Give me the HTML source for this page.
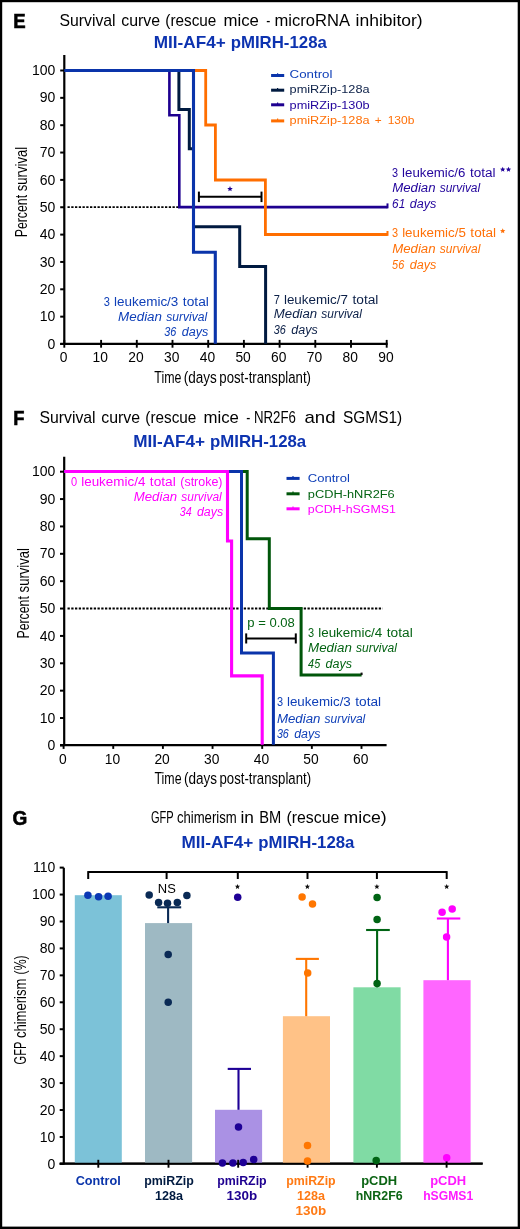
<!DOCTYPE html>
<html><head><meta charset="utf-8"><style>
html,body{margin:0;padding:0;background:#fff;}
svg{display:block;font-family:"Liberation Sans", sans-serif;will-change:transform;}
</style></head><body>
<svg width="520" height="1229" viewBox="0 0 520 1229">
<rect x="0" y="0" width="520" height="1229" fill="#fff"/>
<text x="13.2" y="27.5" font-size="20.0" fill="#000" font-weight="bold" textLength="12.4" lengthAdjust="spacingAndGlyphs" stroke="#000" stroke-width="0.6">E</text>
<text x="59.5" y="26.3" font-size="16.4" fill="#000" textLength="56.12" lengthAdjust="spacingAndGlyphs">Survival</text>
<text x="121.25" y="26.3" font-size="16.4" fill="#000" textLength="38.86" lengthAdjust="spacingAndGlyphs">curve</text>
<text x="165.32" y="26.3" font-size="16.4" fill="#000" textLength="51.04" lengthAdjust="spacingAndGlyphs">(rescue</text>
<text x="223.48" y="26.3" font-size="16.4" fill="#000" textLength="35.39" lengthAdjust="spacingAndGlyphs">mice</text>
<text x="266.25" y="26.3" font-size="16.4" fill="#000" textLength="4.09" lengthAdjust="spacingAndGlyphs">-</text>
<text x="274.49" y="26.3" font-size="16.4" fill="#000" textLength="75.44" lengthAdjust="spacingAndGlyphs">microRNA</text>
<text x="355.53" y="26.3" font-size="16.4" fill="#000" textLength="67.16" lengthAdjust="spacingAndGlyphs">inhibitor)</text>
<text x="153.77" y="47.8" font-size="16.6" fill="#0d33b0" font-weight="bold" textLength="71.91" lengthAdjust="spacingAndGlyphs">MII-AF4+</text>
<text x="230.69" y="47.8" font-size="16.6" fill="#0d33b0" font-weight="bold" textLength="96.13" lengthAdjust="spacingAndGlyphs">pMIRH-128a</text>
<line x1="64.3" y1="55" x2="64.3" y2="344.9" stroke="#000" stroke-width="2.2"/>
<line x1="60.2" y1="343.8" x2="387.6" y2="343.8" stroke="#000" stroke-width="2.2"/>
<line x1="60.2" y1="344.0" x2="64.3" y2="344.0" stroke="#000" stroke-width="2"/>
<text x="55.4" y="348.6" font-size="14" fill="#000" text-anchor="end">0</text>
<line x1="60.2" y1="316.65" x2="64.3" y2="316.65" stroke="#000" stroke-width="2"/>
<text x="55.4" y="321.25" font-size="14" fill="#000" text-anchor="end">10</text>
<line x1="60.2" y1="289.3" x2="64.3" y2="289.3" stroke="#000" stroke-width="2"/>
<text x="55.4" y="293.90000000000003" font-size="14" fill="#000" text-anchor="end">20</text>
<line x1="60.2" y1="261.95" x2="64.3" y2="261.95" stroke="#000" stroke-width="2"/>
<text x="55.4" y="266.55" font-size="14" fill="#000" text-anchor="end">30</text>
<line x1="60.2" y1="234.60000000000002" x2="64.3" y2="234.60000000000002" stroke="#000" stroke-width="2"/>
<text x="55.4" y="239.20000000000002" font-size="14" fill="#000" text-anchor="end">40</text>
<line x1="60.2" y1="207.25" x2="64.3" y2="207.25" stroke="#000" stroke-width="2"/>
<text x="55.4" y="211.85" font-size="14" fill="#000" text-anchor="end">50</text>
<line x1="60.2" y1="179.9" x2="64.3" y2="179.9" stroke="#000" stroke-width="2"/>
<text x="55.4" y="184.5" font-size="14" fill="#000" text-anchor="end">60</text>
<line x1="60.2" y1="152.55" x2="64.3" y2="152.55" stroke="#000" stroke-width="2"/>
<text x="55.4" y="157.15" font-size="14" fill="#000" text-anchor="end">70</text>
<line x1="60.2" y1="125.20000000000002" x2="64.3" y2="125.20000000000002" stroke="#000" stroke-width="2"/>
<text x="55.4" y="129.8" font-size="14" fill="#000" text-anchor="end">80</text>
<line x1="60.2" y1="97.85000000000002" x2="64.3" y2="97.85000000000002" stroke="#000" stroke-width="2"/>
<text x="55.4" y="102.45000000000002" font-size="14" fill="#000" text-anchor="end">90</text>
<line x1="60.2" y1="70.5" x2="64.3" y2="70.5" stroke="#000" stroke-width="2"/>
<text x="55.4" y="75.1" font-size="14" fill="#000" text-anchor="end">100</text>
<line x1="64.3" y1="339.9" x2="64.3" y2="347.7" stroke="#000" stroke-width="1.9"/>
<text x="63.5" y="361.8" font-size="13.8" fill="#000" text-anchor="middle">0</text>
<line x1="101.1" y1="339.9" x2="101.1" y2="347.7" stroke="#000" stroke-width="1.9"/>
<text x="100.3" y="361.8" font-size="13.8" fill="#000" text-anchor="middle">10</text>
<line x1="136.8" y1="339.9" x2="136.8" y2="347.7" stroke="#000" stroke-width="1.9"/>
<text x="136.0" y="361.8" font-size="13.8" fill="#000" text-anchor="middle">20</text>
<line x1="172.5" y1="339.9" x2="172.5" y2="347.7" stroke="#000" stroke-width="1.9"/>
<text x="171.7" y="361.8" font-size="13.8" fill="#000" text-anchor="middle">30</text>
<line x1="208.2" y1="339.9" x2="208.2" y2="347.7" stroke="#000" stroke-width="1.9"/>
<text x="207.39999999999998" y="361.8" font-size="13.8" fill="#000" text-anchor="middle">40</text>
<line x1="243.9" y1="339.9" x2="243.9" y2="347.7" stroke="#000" stroke-width="1.9"/>
<text x="243.1" y="361.8" font-size="13.8" fill="#000" text-anchor="middle">50</text>
<line x1="279.6" y1="339.9" x2="279.6" y2="347.7" stroke="#000" stroke-width="1.9"/>
<text x="278.8" y="361.8" font-size="13.8" fill="#000" text-anchor="middle">60</text>
<line x1="315.29999999999995" y1="339.9" x2="315.29999999999995" y2="347.7" stroke="#000" stroke-width="1.9"/>
<text x="314.49999999999994" y="361.8" font-size="13.8" fill="#000" text-anchor="middle">70</text>
<line x1="351.0" y1="339.9" x2="351.0" y2="347.7" stroke="#000" stroke-width="1.9"/>
<text x="350.2" y="361.8" font-size="13.8" fill="#000" text-anchor="middle">80</text>
<line x1="386.70000000000005" y1="339.9" x2="386.70000000000005" y2="347.7" stroke="#000" stroke-width="1.9"/>
<text x="385.90000000000003" y="361.8" font-size="13.8" fill="#000" text-anchor="middle">90</text>
<text x="154.3" y="383" font-size="16.8" fill="#000" textLength="27.05" lengthAdjust="spacingAndGlyphs">Time</text>
<text x="183.79" y="383" font-size="16.8" fill="#000" textLength="33.12" lengthAdjust="spacingAndGlyphs">(days</text>
<text x="219.31" y="383" font-size="16.8" fill="#000" textLength="91.65" lengthAdjust="spacingAndGlyphs">post-transplant)</text>
<g transform="translate(27.4,237.2) rotate(-90)">
<text x="-0.11" y="0" font-size="17.3" fill="#000" textLength="42.37" lengthAdjust="spacingAndGlyphs">Percent</text>
<text x="46.0" y="0" font-size="17.3" fill="#000" textLength="44.34" lengthAdjust="spacingAndGlyphs">survival</text>
</g>
<line x1="67.5" y1="207.1" x2="386.5" y2="207.1" stroke="#000" stroke-width="1.8" stroke-dasharray="2.3 1.45"/>
<path d="M169.4,70.5 L169.4,115.3 L179.3,115.3 L179.3,207.1 L387.5,207.1" fill="none" stroke="#1e0090" stroke-width="2.6" stroke-linejoin="miter" stroke-linecap="butt"/>
<line x1="387.5" y1="208.29999999999998" x2="387.5" y2="203.4" stroke="#1e0090" stroke-width="2"/>
<path d="M178.9,70.5 L178.9,109.5 L189.3,109.5 L189.3,148.8 L193.5,148.8 L193.5,226.7 L239.7,226.7 L239.7,266.4 L265.6,266.4 L265.6,343.8" fill="none" stroke="#001a40" stroke-width="3" stroke-linejoin="miter" stroke-linecap="butt"/>
<path d="M193.5,70.5 L205.7,70.5 L205.7,125 L215.4,125 L215.4,180 L265.4,180 L265.4,234.5 L387.5,234.5" fill="none" stroke="#ff6e00" stroke-width="2.8" stroke-linejoin="miter" stroke-linecap="butt"/>
<line x1="387.5" y1="235.8" x2="387.5" y2="231.0" stroke="#ff6e00" stroke-width="2"/>
<path d="M64.3,70.5 L193.5,70.5 L193.5,252.2 L215.3,252.2 L215.3,343.8" fill="none" stroke="#0a34aa" stroke-width="3.1" stroke-linejoin="miter" stroke-linecap="butt"/>
<line x1="198.9" y1="196.8" x2="261.5" y2="196.8" stroke="#000" stroke-width="2"/>
<line x1="198.9" y1="191.6" x2="198.9" y2="202.1" stroke="#000" stroke-width="2"/>
<line x1="261.5" y1="191.6" x2="261.5" y2="202.1" stroke="#000" stroke-width="2"/>
<polygon points="230.00,186.10 230.77,187.94 232.76,188.10 231.24,189.40 231.70,191.35 230.00,190.31 228.30,191.35 228.76,189.40 227.24,188.10 229.23,187.94" fill="#1e0090"/>
<line x1="271.1" y1="75.5" x2="284.2" y2="75.5" stroke="#0a34aa" stroke-width="3"/>
<line x1="277.6" y1="75.0" x2="277.6" y2="73.2" stroke="#0a34aa" stroke-width="1.2"/>
<text x="289.6" y="77.8" font-size="11.7" fill="#1040b8" textLength="42.88" lengthAdjust="spacingAndGlyphs">Control</text>
<line x1="271.1" y1="90.2" x2="284.2" y2="90.2" stroke="#001a40" stroke-width="3"/>
<line x1="277.6" y1="89.7" x2="277.6" y2="87.9" stroke="#001a40" stroke-width="1.2"/>
<text x="289.6" y="93.2" font-size="11.7" fill="#0c2048" textLength="79.96" lengthAdjust="spacingAndGlyphs">pmiRZip-128a</text>
<line x1="271.1" y1="104.8" x2="284.2" y2="104.8" stroke="#1e0090" stroke-width="3"/>
<line x1="277.6" y1="104.3" x2="277.6" y2="102.5" stroke="#1e0090" stroke-width="1.2"/>
<text x="289.6" y="108.6" font-size="11.7" fill="#22049c" textLength="79.96" lengthAdjust="spacingAndGlyphs">pmiRZip-130b</text>
<line x1="271.1" y1="120.9" x2="284.2" y2="120.9" stroke="#ff6e00" stroke-width="3"/>
<line x1="277.6" y1="120.4" x2="277.6" y2="118.60000000000001" stroke="#ff6e00" stroke-width="1.2"/>
<text x="289.6" y="124" font-size="11.7" fill="#ff7008" textLength="79.96" lengthAdjust="spacingAndGlyphs">pmiRZip-128a</text>
<text x="374.8" y="124" font-size="11.7" fill="#ff7008" textLength="6.92" lengthAdjust="spacingAndGlyphs">+</text>
<text x="387.7" y="124" font-size="11.7" fill="#ff7008" textLength="26.69" lengthAdjust="spacingAndGlyphs">130b</text>
<text x="392.1" y="176.7" font-size="12.3" fill="#22049c" textLength="6.06" lengthAdjust="spacingAndGlyphs">3</text>
<text x="402.1" y="176.7" font-size="12.3" fill="#22049c" textLength="63.33" lengthAdjust="spacingAndGlyphs">leukemic/6</text>
<text x="469.9" y="176.7" font-size="12.3" fill="#22049c" textLength="25.61" lengthAdjust="spacingAndGlyphs">total</text>
<polygon points="502.70,166.80 503.44,168.58 505.36,168.73 503.90,169.99 504.35,171.87 502.70,170.86 501.05,171.87 501.50,169.99 500.04,168.73 501.96,168.58" fill="#22049c"/>
<polygon points="508.50,166.80 509.24,168.58 511.16,168.73 509.70,169.99 510.15,171.87 508.50,170.86 506.85,171.87 507.30,169.99 505.84,168.73 507.76,168.58" fill="#22049c"/>
<text x="392.2" y="191.8" font-size="12.3" fill="#22049c" font-style="italic" textLength="43.33" lengthAdjust="spacingAndGlyphs">Median</text>
<text x="439.7" y="191.8" font-size="12.3" fill="#22049c" font-style="italic" textLength="40.47" lengthAdjust="spacingAndGlyphs">survival</text>
<text x="392.1" y="207.5" font-size="12.3" fill="#22049c" font-style="italic" textLength="13.1" lengthAdjust="spacingAndGlyphs">61</text>
<text x="409.7" y="207.5" font-size="12.3" fill="#22049c" font-style="italic" textLength="26.65" lengthAdjust="spacingAndGlyphs">days</text>
<text x="392.1" y="236.7" font-size="12.3" fill="#ff7008" textLength="6.09" lengthAdjust="spacingAndGlyphs">3</text>
<text x="402.16" y="236.7" font-size="12.3" fill="#ff7008" textLength="63.7" lengthAdjust="spacingAndGlyphs">leukemic/5</text>
<text x="470.35" y="236.7" font-size="12.3" fill="#ff7008" textLength="25.76" lengthAdjust="spacingAndGlyphs">total</text>
<polygon points="502.70,228.30 503.44,230.08 505.36,230.23 503.90,231.49 504.35,233.37 502.70,232.36 501.05,233.37 501.50,231.49 500.04,230.23 501.96,230.08" fill="#ff7008"/>
<text x="392.2" y="252.9" font-size="12.3" fill="#ff7008" font-style="italic" textLength="43.42" lengthAdjust="spacingAndGlyphs">Median</text>
<text x="439.81" y="252.9" font-size="12.3" fill="#ff7008" font-style="italic" textLength="40.56" lengthAdjust="spacingAndGlyphs">survival</text>
<text x="392.1" y="268.6" font-size="12.3" fill="#ff7008" font-style="italic" textLength="12.13" lengthAdjust="spacingAndGlyphs">56</text>
<text x="409.66" y="268.6" font-size="12.3" fill="#ff7008" font-style="italic" textLength="26.59" lengthAdjust="spacingAndGlyphs">days</text>
<text x="103.8" y="305.5" font-size="12.3" fill="#1040b8" textLength="6.16" lengthAdjust="spacingAndGlyphs">3</text>
<text x="113.97" y="305.5" font-size="12.3" fill="#1040b8" textLength="64.38" lengthAdjust="spacingAndGlyphs">leukemic/3</text>
<text x="182.89" y="305.5" font-size="12.3" fill="#1040b8" textLength="26.03" lengthAdjust="spacingAndGlyphs">total</text>
<text x="118.1" y="320.5" font-size="12.3" fill="#1040b8" font-style="italic" textLength="43.91" lengthAdjust="spacingAndGlyphs">Median</text>
<text x="166.24" y="320.5" font-size="12.3" fill="#1040b8" font-style="italic" textLength="41.01" lengthAdjust="spacingAndGlyphs">survival</text>
<text x="164.2" y="336.2" font-size="12.3" fill="#1040b8" font-style="italic" textLength="12.1" lengthAdjust="spacingAndGlyphs">36</text>
<text x="181.72" y="336.2" font-size="12.3" fill="#1040b8" font-style="italic" textLength="26.53" lengthAdjust="spacingAndGlyphs">days</text>
<text x="273.8" y="303.6" font-size="12.3" fill="#0c2048" textLength="6.13" lengthAdjust="spacingAndGlyphs">7</text>
<text x="283.92" y="303.6" font-size="12.3" fill="#0c2048" textLength="64.07" lengthAdjust="spacingAndGlyphs">leukemic/7</text>
<text x="352.51" y="303.6" font-size="12.3" fill="#0c2048" textLength="25.91" lengthAdjust="spacingAndGlyphs">total</text>
<text x="273.8" y="318.2" font-size="12.3" fill="#0c2048" font-style="italic" textLength="43.38" lengthAdjust="spacingAndGlyphs">Median</text>
<text x="321.35" y="318.2" font-size="12.3" fill="#0c2048" font-style="italic" textLength="40.51" lengthAdjust="spacingAndGlyphs">survival</text>
<text x="273.8" y="333.9" font-size="12.3" fill="#0c2048" font-style="italic" textLength="12.07" lengthAdjust="spacingAndGlyphs">36</text>
<text x="291.28" y="333.9" font-size="12.3" fill="#0c2048" font-style="italic" textLength="26.47" lengthAdjust="spacingAndGlyphs">days</text>
<text x="13.2" y="424.8" font-size="20.0" fill="#000" font-weight="bold" textLength="11.2" lengthAdjust="spacingAndGlyphs" stroke="#000" stroke-width="0.6">F</text>
<text x="39.5" y="423.1" font-size="16.4" fill="#000" textLength="56.12" lengthAdjust="spacingAndGlyphs">Survival</text>
<text x="101.25" y="423.1" font-size="16.4" fill="#000" textLength="38.86" lengthAdjust="spacingAndGlyphs">curve</text>
<text x="145.32" y="423.1" font-size="16.4" fill="#000" textLength="51.04" lengthAdjust="spacingAndGlyphs">(rescue</text>
<text x="203.48" y="423.1" font-size="16.4" fill="#000" textLength="35.39" lengthAdjust="spacingAndGlyphs">mice</text>
<text x="246.25" y="423.1" font-size="16.4" fill="#000" textLength="4.09" lengthAdjust="spacingAndGlyphs">-</text>
<text x="253.99" y="423.1" font-size="16.4" fill="#000" textLength="41.9" lengthAdjust="spacingAndGlyphs">NR2F6</text>
<text x="304.5" y="423.1" font-size="16.4" fill="#000" textLength="31.13" lengthAdjust="spacingAndGlyphs">and</text>
<text x="343.1" y="423.1" font-size="16.4" fill="#000" textLength="59.03" lengthAdjust="spacingAndGlyphs">SGMS1)</text>
<text x="133.17" y="446.8" font-size="16.6" fill="#0d33b0" font-weight="bold" textLength="71.91" lengthAdjust="spacingAndGlyphs">MII-AF4+</text>
<text x="210.09" y="446.8" font-size="16.6" fill="#0d33b0" font-weight="bold" textLength="96.13" lengthAdjust="spacingAndGlyphs">pMIRH-128a</text>
<line x1="64.2" y1="456.7" x2="64.2" y2="745.9" stroke="#000" stroke-width="2.2"/>
<line x1="60.0" y1="745.2" x2="386.6" y2="745.2" stroke="#000" stroke-width="2.3"/>
<line x1="60.0" y1="745.4" x2="64.2" y2="745.4" stroke="#000" stroke-width="2"/>
<text x="55.4" y="750.0" font-size="14" fill="#000" text-anchor="end">0</text>
<line x1="60.0" y1="718.03" x2="64.2" y2="718.03" stroke="#000" stroke-width="2"/>
<text x="55.4" y="722.63" font-size="14" fill="#000" text-anchor="end">10</text>
<line x1="60.0" y1="690.66" x2="64.2" y2="690.66" stroke="#000" stroke-width="2"/>
<text x="55.4" y="695.26" font-size="14" fill="#000" text-anchor="end">20</text>
<line x1="60.0" y1="663.29" x2="64.2" y2="663.29" stroke="#000" stroke-width="2"/>
<text x="55.4" y="667.89" font-size="14" fill="#000" text-anchor="end">30</text>
<line x1="60.0" y1="635.92" x2="64.2" y2="635.92" stroke="#000" stroke-width="2"/>
<text x="55.4" y="640.52" font-size="14" fill="#000" text-anchor="end">40</text>
<line x1="60.0" y1="608.55" x2="64.2" y2="608.55" stroke="#000" stroke-width="2"/>
<text x="55.4" y="613.15" font-size="14" fill="#000" text-anchor="end">50</text>
<line x1="60.0" y1="581.18" x2="64.2" y2="581.18" stroke="#000" stroke-width="2"/>
<text x="55.4" y="585.78" font-size="14" fill="#000" text-anchor="end">60</text>
<line x1="60.0" y1="553.81" x2="64.2" y2="553.81" stroke="#000" stroke-width="2"/>
<text x="55.4" y="558.41" font-size="14" fill="#000" text-anchor="end">70</text>
<line x1="60.0" y1="526.4399999999999" x2="64.2" y2="526.4399999999999" stroke="#000" stroke-width="2"/>
<text x="55.4" y="531.04" font-size="14" fill="#000" text-anchor="end">80</text>
<line x1="60.0" y1="499.06999999999994" x2="64.2" y2="499.06999999999994" stroke="#000" stroke-width="2"/>
<text x="55.4" y="503.66999999999996" font-size="14" fill="#000" text-anchor="end">90</text>
<line x1="60.0" y1="471.7" x2="64.2" y2="471.7" stroke="#000" stroke-width="2"/>
<text x="55.4" y="476.3" font-size="14" fill="#000" text-anchor="end">100</text>
<line x1="63.6" y1="745.2" x2="63.6" y2="748.9" stroke="#000" stroke-width="1.9"/>
<text x="62.800000000000004" y="763.6" font-size="13.8" fill="#000" text-anchor="middle">0</text>
<line x1="113.25" y1="745.2" x2="113.25" y2="748.9" stroke="#000" stroke-width="1.9"/>
<text x="112.45" y="763.6" font-size="13.8" fill="#000" text-anchor="middle">10</text>
<line x1="162.9" y1="745.2" x2="162.9" y2="748.9" stroke="#000" stroke-width="1.9"/>
<text x="162.1" y="763.6" font-size="13.8" fill="#000" text-anchor="middle">20</text>
<line x1="212.54999999999998" y1="745.2" x2="212.54999999999998" y2="748.9" stroke="#000" stroke-width="1.9"/>
<text x="211.74999999999997" y="763.6" font-size="13.8" fill="#000" text-anchor="middle">30</text>
<line x1="262.2" y1="745.2" x2="262.2" y2="748.9" stroke="#000" stroke-width="1.9"/>
<text x="261.4" y="763.6" font-size="13.8" fill="#000" text-anchor="middle">40</text>
<line x1="311.85" y1="745.2" x2="311.85" y2="748.9" stroke="#000" stroke-width="1.9"/>
<text x="311.05" y="763.6" font-size="13.8" fill="#000" text-anchor="middle">50</text>
<line x1="361.5" y1="745.2" x2="361.5" y2="748.9" stroke="#000" stroke-width="1.9"/>
<text x="360.7" y="763.6" font-size="13.8" fill="#000" text-anchor="middle">60</text>
<text x="154.5" y="783.9" font-size="16.8" fill="#000" textLength="27.05" lengthAdjust="spacingAndGlyphs">Time</text>
<text x="183.99" y="783.9" font-size="16.8" fill="#000" textLength="33.12" lengthAdjust="spacingAndGlyphs">(days</text>
<text x="219.51" y="783.9" font-size="16.8" fill="#000" textLength="91.55" lengthAdjust="spacingAndGlyphs">post-transplant)</text>
<g transform="translate(28.9,638.4) rotate(-90)">
<text x="-0.11" y="0" font-size="17.3" fill="#000" textLength="42.37" lengthAdjust="spacingAndGlyphs">Percent</text>
<text x="46.0" y="0" font-size="17.3" fill="#000" textLength="44.34" lengthAdjust="spacingAndGlyphs">survival</text>
</g>
<line x1="67.5" y1="608.5" x2="382.7" y2="608.5" stroke="#000" stroke-width="1.8" stroke-dasharray="2.3 1.45"/>
<path d="M64.2,471.5 L247.2,471.5 L247.2,538.7 L269.3,538.7 L269.3,608.5 L301.1,608.5 L301.1,675.1 L361.6,675.1" fill="none" stroke="#00560a" stroke-width="3" stroke-linejoin="miter" stroke-linecap="butt"/>
<line x1="361.6" y1="675.1" x2="361.6" y2="672.6" stroke="#111" stroke-width="2"/>
<path d="M64.2,471.5 L241.5,471.5 L241.5,653 L273.4,653 L273.4,744.8" fill="none" stroke="#0a34aa" stroke-width="3" stroke-linejoin="miter" stroke-linecap="butt"/>
<path d="M64.2,471.5 L227.5,471.5 L227.5,541 L231.6,541 L231.6,675.9 L262.2,675.9 L262.2,744.8" fill="none" stroke="#ff00ff" stroke-width="3.1" stroke-linejoin="miter" stroke-linecap="butt"/>
<line x1="246.2" y1="638.5" x2="295.8" y2="638.5" stroke="#000" stroke-width="2"/>
<line x1="246.2" y1="633.4" x2="246.2" y2="643.5" stroke="#000" stroke-width="2"/>
<line x1="295.8" y1="633.4" x2="295.8" y2="643.5" stroke="#000" stroke-width="2"/>
<text x="247.3" y="627.4" font-size="12.3" fill="#056414" textLength="47.53" lengthAdjust="spacingAndGlyphs">p = 0.08</text>
<line x1="286.5" y1="478.4" x2="299.6" y2="478.4" stroke="#0a34aa" stroke-width="3"/>
<line x1="293" y1="477.9" x2="293" y2="476.09999999999997" stroke="#0a34aa" stroke-width="1.2"/>
<text x="307.8" y="481.6" font-size="11.7" fill="#1040b8" textLength="42.07" lengthAdjust="spacingAndGlyphs">Control</text>
<line x1="286.5" y1="493.8" x2="299.6" y2="493.8" stroke="#00560a" stroke-width="3"/>
<line x1="293" y1="493.3" x2="293" y2="491.5" stroke="#00560a" stroke-width="1.2"/>
<text x="307.8" y="497.8" font-size="11.7" fill="#056414" textLength="86.95" lengthAdjust="spacingAndGlyphs">pCDH-hNR2F6</text>
<line x1="286.5" y1="508.8" x2="299.6" y2="508.8" stroke="#ff00ff" stroke-width="3"/>
<line x1="293" y1="508.3" x2="293" y2="506.5" stroke="#ff00ff" stroke-width="1.2"/>
<text x="307.8" y="513.4" font-size="11.7" fill="#ff00ff" textLength="88.13" lengthAdjust="spacingAndGlyphs">pCDH-hSGMS1</text>
<text x="71.1" y="485.6" font-size="12.3" fill="#ff00ff" textLength="6.13" lengthAdjust="spacingAndGlyphs">0</text>
<text x="81.23" y="485.6" font-size="12.3" fill="#ff00ff" textLength="64.13" lengthAdjust="spacingAndGlyphs">leukemic/4</text>
<text x="149.89" y="485.6" font-size="12.3" fill="#ff00ff" textLength="25.93" lengthAdjust="spacingAndGlyphs">total</text>
<text x="180.3" y="485.6" font-size="12.3" fill="#ff00ff" textLength="42.2" lengthAdjust="spacingAndGlyphs">(stroke)</text>
<text x="133.75" y="500.5" font-size="12.3" fill="#ff00ff" font-style="italic" textLength="43.35" lengthAdjust="spacingAndGlyphs">Median</text>
<text x="181.28" y="500.5" font-size="12.3" fill="#ff00ff" font-style="italic" textLength="40.49" lengthAdjust="spacingAndGlyphs">survival</text>
<text x="179.7" y="516.3" font-size="12.3" fill="#ff00ff" font-style="italic" textLength="11.94" lengthAdjust="spacingAndGlyphs">34</text>
<text x="196.98" y="516.3" font-size="12.3" fill="#ff00ff" font-style="italic" textLength="26.17" lengthAdjust="spacingAndGlyphs">days</text>
<text x="308.1" y="636.6" font-size="12.3" fill="#056414" textLength="6.13" lengthAdjust="spacingAndGlyphs">3</text>
<text x="318.22" y="636.6" font-size="12.3" fill="#056414" textLength="64.07" lengthAdjust="spacingAndGlyphs">leukemic/4</text>
<text x="386.81" y="636.6" font-size="12.3" fill="#056414" textLength="25.91" lengthAdjust="spacingAndGlyphs">total</text>
<text x="308.1" y="651.6" font-size="12.3" fill="#056414" font-style="italic" textLength="43.72" lengthAdjust="spacingAndGlyphs">Median</text>
<text x="356.03" y="651.6" font-size="12.3" fill="#056414" font-style="italic" textLength="40.83" lengthAdjust="spacingAndGlyphs">survival</text>
<text x="308.1" y="667.8" font-size="12.3" fill="#056414" font-style="italic" textLength="12.07" lengthAdjust="spacingAndGlyphs">45</text>
<text x="325.58" y="667.8" font-size="12.3" fill="#056414" font-style="italic" textLength="26.47" lengthAdjust="spacingAndGlyphs">days</text>
<text x="276.9" y="706.3" font-size="12.3" fill="#1040b8" textLength="6.1" lengthAdjust="spacingAndGlyphs">3</text>
<text x="286.98" y="706.3" font-size="12.3" fill="#1040b8" textLength="63.82" lengthAdjust="spacingAndGlyphs">leukemic/3</text>
<text x="355.31" y="706.3" font-size="12.3" fill="#1040b8" textLength="25.81" lengthAdjust="spacingAndGlyphs">total</text>
<text x="276.9" y="722.8" font-size="12.3" fill="#1040b8" font-style="italic" textLength="43.52" lengthAdjust="spacingAndGlyphs">Median</text>
<text x="324.61" y="722.8" font-size="12.3" fill="#1040b8" font-style="italic" textLength="40.65" lengthAdjust="spacingAndGlyphs">survival</text>
<text x="276.9" y="738.0" font-size="12.3" fill="#1040b8" font-style="italic" textLength="11.96" lengthAdjust="spacingAndGlyphs">36</text>
<text x="294.22" y="738.0" font-size="12.3" fill="#1040b8" font-style="italic" textLength="26.23" lengthAdjust="spacingAndGlyphs">days</text>
<text x="12.5" y="825.4" font-size="20.0" fill="#000" font-weight="bold" textLength="14.8" lengthAdjust="spacingAndGlyphs" stroke="#000" stroke-width="0.6">G</text>
<text x="150.9" y="822.6" font-size="17" fill="#000" textLength="22.72" lengthAdjust="spacingAndGlyphs">GFP</text>
<text x="176.9" y="822.6" font-size="17" fill="#000" textLength="59.82" lengthAdjust="spacingAndGlyphs">chimerism</text>
<text x="240.52" y="822.6" font-size="16" fill="#000" textLength="13.45" lengthAdjust="spacingAndGlyphs">in</text>
<text x="259.28" y="822.6" font-size="16" fill="#000" textLength="22.02" lengthAdjust="spacingAndGlyphs">BM</text>
<text x="286.51" y="822.6" font-size="16" fill="#000" textLength="52.79" lengthAdjust="spacingAndGlyphs">(rescue</text>
<text x="343.5" y="822.6" font-size="16" fill="#000" textLength="43.17" lengthAdjust="spacingAndGlyphs">mice)</text>
<text x="181.47" y="848" font-size="16.6" fill="#0d33b0" font-weight="bold" textLength="71.91" lengthAdjust="spacingAndGlyphs">MII-AF4+</text>
<text x="258.39" y="848" font-size="16.6" fill="#0d33b0" font-weight="bold" textLength="96.03" lengthAdjust="spacingAndGlyphs">pMIRH-128a</text>
<line x1="63.8" y1="867.7" x2="63.8" y2="1164.6" stroke="#000" stroke-width="2.2"/>
<line x1="59.7" y1="1163.5" x2="482.8" y2="1163.5" stroke="#000" stroke-width="2.2"/>
<line x1="59.7" y1="1163.9" x2="63.8" y2="1163.9" stroke="#000" stroke-width="2"/>
<text x="55.4" y="1168.5" font-size="14" fill="#000" text-anchor="end">0</text>
<line x1="59.7" y1="1136.9650000000001" x2="63.8" y2="1136.9650000000001" stroke="#000" stroke-width="2"/>
<text x="55.4" y="1141.565" font-size="14" fill="#000" text-anchor="end">10</text>
<line x1="59.7" y1="1110.0300000000002" x2="63.8" y2="1110.0300000000002" stroke="#000" stroke-width="2"/>
<text x="55.4" y="1114.63" font-size="14" fill="#000" text-anchor="end">20</text>
<line x1="59.7" y1="1083.095" x2="63.8" y2="1083.095" stroke="#000" stroke-width="2"/>
<text x="55.4" y="1087.695" font-size="14" fill="#000" text-anchor="end">30</text>
<line x1="59.7" y1="1056.16" x2="63.8" y2="1056.16" stroke="#000" stroke-width="2"/>
<text x="55.4" y="1060.76" font-size="14" fill="#000" text-anchor="end">40</text>
<line x1="59.7" y1="1029.2250000000001" x2="63.8" y2="1029.2250000000001" stroke="#000" stroke-width="2"/>
<text x="55.4" y="1033.825" font-size="14" fill="#000" text-anchor="end">50</text>
<line x1="59.7" y1="1002.2900000000001" x2="63.8" y2="1002.2900000000001" stroke="#000" stroke-width="2"/>
<text x="55.4" y="1006.8900000000001" font-size="14" fill="#000" text-anchor="end">60</text>
<line x1="59.7" y1="975.3550000000001" x2="63.8" y2="975.3550000000001" stroke="#000" stroke-width="2"/>
<text x="55.4" y="979.9550000000002" font-size="14" fill="#000" text-anchor="end">70</text>
<line x1="59.7" y1="948.4200000000001" x2="63.8" y2="948.4200000000001" stroke="#000" stroke-width="2"/>
<text x="55.4" y="953.0200000000001" font-size="14" fill="#000" text-anchor="end">80</text>
<line x1="59.7" y1="921.4850000000001" x2="63.8" y2="921.4850000000001" stroke="#000" stroke-width="2"/>
<text x="55.4" y="926.0850000000002" font-size="14" fill="#000" text-anchor="end">90</text>
<line x1="59.7" y1="894.5500000000002" x2="63.8" y2="894.5500000000002" stroke="#000" stroke-width="2"/>
<text x="55.4" y="899.1500000000002" font-size="14" fill="#000" text-anchor="end">100</text>
<line x1="59.7" y1="867.6150000000001" x2="63.8" y2="867.6150000000001" stroke="#000" stroke-width="2"/>
<text x="55.4" y="872.2150000000001" font-size="14" fill="#000" text-anchor="end">110</text>
<g transform="translate(25.9,1064.5) rotate(-90)">
<text x="0.1" y="0" font-size="17.3" fill="#000" textLength="22.64" lengthAdjust="spacingAndGlyphs">GFP</text>
<text x="26.4" y="0" font-size="17.3" fill="#000" textLength="59.5" lengthAdjust="spacingAndGlyphs">chimerism</text>
<text x="90.09" y="0" font-size="17.3" fill="#000" textLength="19.15" lengthAdjust="spacingAndGlyphs">(%)</text>
</g>
<rect x="74.8" y="895.2" width="47.0" height="268.29999999999995" fill="#7cc2d8"/>
<rect x="145" y="923.1" width="47.099999999999994" height="240.39999999999998" fill="#9eb9c3"/>
<rect x="215" y="1109.8" width="47.10000000000002" height="53.700000000000045" fill="#aa91e4"/>
<rect x="282.9" y="1016.2" width="47.10000000000002" height="147.29999999999995" fill="#ffc287"/>
<rect x="353.4" y="987.3" width="47.200000000000045" height="176.20000000000005" fill="#80dba4"/>
<rect x="423.4" y="980.2" width="47.200000000000045" height="183.29999999999995" fill="#ff66ff"/>
<line x1="168.1" y1="907.3" x2="168.1" y2="923.1" stroke="#0a2a55" stroke-width="2.1"/>
<line x1="157.3" y1="907.3" x2="181.2" y2="907.3" stroke="#0a2a55" stroke-width="2.1"/>
<line x1="238.5" y1="1068.9" x2="238.5" y2="1109.8" stroke="#1e0096" stroke-width="2.1"/>
<line x1="227.7" y1="1068.9" x2="251" y2="1068.9" stroke="#1e0096" stroke-width="2.1"/>
<line x1="306.2" y1="958.9" x2="306.2" y2="1016.2" stroke="#ff7600" stroke-width="2.1"/>
<line x1="295.8" y1="958.9" x2="318.9" y2="958.9" stroke="#ff7600" stroke-width="2.1"/>
<line x1="377.1" y1="930" x2="377.1" y2="987.3" stroke="#006414" stroke-width="2.1"/>
<line x1="366.1" y1="930" x2="389.8" y2="930" stroke="#006414" stroke-width="2.1"/>
<line x1="447.9" y1="918.5" x2="447.9" y2="980.2" stroke="#ff00ff" stroke-width="2.1"/>
<line x1="436.9" y1="918.5" x2="460.3" y2="918.5" stroke="#ff00ff" stroke-width="2.1"/>
<line x1="98.3" y1="1159.8" x2="98.3" y2="1167.7" stroke="#000" stroke-width="1.9"/>
<line x1="168.5" y1="1159.8" x2="168.5" y2="1167.7" stroke="#000" stroke-width="1.9"/>
<line x1="238.2" y1="1159.8" x2="238.2" y2="1167.7" stroke="#000" stroke-width="1.9"/>
<line x1="307.6" y1="1159.8" x2="307.6" y2="1167.7" stroke="#000" stroke-width="1.9"/>
<line x1="376.9" y1="1159.8" x2="376.9" y2="1167.7" stroke="#000" stroke-width="1.9"/>
<line x1="446.6" y1="1159.8" x2="446.6" y2="1167.7" stroke="#000" stroke-width="1.9"/>
<line x1="59.7" y1="1163.7" x2="482.5" y2="1163.7" stroke="#000" stroke-width="2.1"/>
<circle cx="87.9" cy="895.2" r="3.75" fill="#0a38b4"/>
<circle cx="98.6" cy="896.7" r="3.75" fill="#0a38b4"/>
<circle cx="108.1" cy="896.3" r="3.75" fill="#0a38b4"/>
<circle cx="149.2" cy="895" r="3.75" fill="#0a2a55"/>
<circle cx="158.6" cy="902.5" r="3.75" fill="#0a2a55"/>
<circle cx="167.5" cy="903.3" r="3.75" fill="#0a2a55"/>
<circle cx="177.3" cy="902.5" r="3.75" fill="#0a2a55"/>
<circle cx="186.9" cy="895.5" r="3.75" fill="#0a2a55"/>
<circle cx="168.2" cy="954.6" r="3.75" fill="#0a2a55"/>
<circle cx="168.2" cy="1002.3" r="3.75" fill="#0a2a55"/>
<circle cx="237.7" cy="897.3" r="3.75" fill="#1e0096"/>
<circle cx="238.5" cy="1126.9" r="3.75" fill="#1e0096"/>
<circle cx="222.4" cy="1163.1" r="3.75" fill="#1e0096"/>
<circle cx="232.9" cy="1163.1" r="3.75" fill="#1e0096"/>
<circle cx="243.2" cy="1162.6" r="3.75" fill="#1e0096"/>
<circle cx="253.7" cy="1159.6" r="3.75" fill="#1e0096"/>
<circle cx="302.1" cy="897.1" r="3.75" fill="#ff7600"/>
<circle cx="312.5" cy="904" r="3.75" fill="#ff7600"/>
<circle cx="307.7" cy="972.9" r="3.75" fill="#ff7600"/>
<circle cx="307.5" cy="1145.6" r="3.75" fill="#ff7600"/>
<circle cx="307.5" cy="1161" r="3.75" fill="#ff7600"/>
<circle cx="377.1" cy="897.4" r="3.75" fill="#006414"/>
<circle cx="377.1" cy="919.4" r="3.75" fill="#006414"/>
<circle cx="377.1" cy="983.4" r="3.75" fill="#006414"/>
<circle cx="376.2" cy="1160.6" r="3.75" fill="#006414"/>
<circle cx="442.1" cy="912.3" r="3.75" fill="#ff00ff"/>
<circle cx="452.2" cy="909" r="3.75" fill="#ff00ff"/>
<circle cx="446.6" cy="937" r="3.75" fill="#ff00ff"/>
<circle cx="446.7" cy="1157.7" r="3.75" fill="#ff00ff"/>
<line x1="88.2" y1="872.1" x2="446.7" y2="872.1" stroke="#000" stroke-width="2"/>
<line x1="88.2" y1="871.1" x2="88.2" y2="879" stroke="#000" stroke-width="2"/>
<line x1="166.6" y1="871.1" x2="166.6" y2="879" stroke="#000" stroke-width="2"/>
<line x1="237.8" y1="871.1" x2="237.8" y2="879" stroke="#000" stroke-width="2"/>
<line x1="307.5" y1="871.1" x2="307.5" y2="879" stroke="#000" stroke-width="2"/>
<line x1="376.9" y1="871.1" x2="376.9" y2="879" stroke="#000" stroke-width="2"/>
<line x1="446.7" y1="871.1" x2="446.7" y2="879" stroke="#000" stroke-width="2"/>
<text x="166.8" y="893" font-size="12.2" fill="#000" text-anchor="middle" textLength="18" lengthAdjust="spacingAndGlyphs">NS</text>
<polygon points="237.50,883.90 238.24,885.68 240.16,885.83 238.70,887.09 239.15,888.97 237.50,887.96 235.85,888.97 236.30,887.09 234.84,885.83 236.76,885.68" fill="#111"/>
<polygon points="307.40,883.90 308.14,885.68 310.06,885.83 308.60,887.09 309.05,888.97 307.40,887.96 305.75,888.97 306.20,887.09 304.74,885.83 306.66,885.68" fill="#111"/>
<polygon points="376.90,883.90 377.64,885.68 379.56,885.83 378.10,887.09 378.55,888.97 376.90,887.96 375.25,888.97 375.70,887.09 374.24,885.83 376.16,885.68" fill="#111"/>
<polygon points="446.70,883.90 447.44,885.68 449.36,885.83 447.90,887.09 448.35,888.97 446.70,887.96 445.05,888.97 445.50,887.09 444.04,885.83 445.96,885.68" fill="#111"/>
<text x="98.2" y="1184.8" font-size="12.2" fill="#0a34aa" font-weight="bold" text-anchor="middle" textLength="45" lengthAdjust="spacingAndGlyphs">Control</text>
<text x="169.0" y="1184.8" font-size="12.2" fill="#001a40" font-weight="bold" text-anchor="middle" textLength="49.5" lengthAdjust="spacingAndGlyphs">pmiRZip</text>
<text x="169.0" y="1200.0" font-size="12.2" fill="#001a40" font-weight="bold" text-anchor="middle" textLength="28" lengthAdjust="spacingAndGlyphs">128a</text>
<text x="241.9" y="1184.8" font-size="12.2" fill="#1e0090" font-weight="bold" text-anchor="middle" textLength="49.5" lengthAdjust="spacingAndGlyphs">pmiRZip</text>
<text x="241.9" y="1200.0" font-size="12.2" fill="#1e0090" font-weight="bold" text-anchor="middle" textLength="30.6" lengthAdjust="spacingAndGlyphs">130b</text>
<text x="310.9" y="1184.8" font-size="12.2" fill="#ff7a14" font-weight="bold" text-anchor="middle" textLength="49.5" lengthAdjust="spacingAndGlyphs">pmiRZip</text>
<text x="310.9" y="1200.0" font-size="12.2" fill="#ff7a14" font-weight="bold" text-anchor="middle" textLength="28" lengthAdjust="spacingAndGlyphs">128a</text>
<text x="310.9" y="1215.2" font-size="12.2" fill="#ff7a14" font-weight="bold" text-anchor="middle" textLength="30.6" lengthAdjust="spacingAndGlyphs">130b</text>
<text x="379.2" y="1184.8" font-size="12.2" fill="#0c6414" font-weight="bold" text-anchor="middle" textLength="36" lengthAdjust="spacingAndGlyphs">pCDH</text>
<text x="379.2" y="1200.0" font-size="12.2" fill="#0c6414" font-weight="bold" text-anchor="middle" textLength="46.8" lengthAdjust="spacingAndGlyphs">hNR2F6</text>
<text x="448.2" y="1184.8" font-size="12.2" fill="#ff1aff" font-weight="bold" text-anchor="middle" textLength="36" lengthAdjust="spacingAndGlyphs">pCDH</text>
<text x="448.2" y="1200.0" font-size="12.2" fill="#ff1aff" font-weight="bold" text-anchor="middle" textLength="50" lengthAdjust="spacingAndGlyphs">hSGMS1</text>
<rect x="0" y="0" width="520" height="2.2" fill="#000"/><rect x="0" y="0" width="2.2" height="1229" fill="#000"/><rect x="517.7" y="0" width="2.3" height="1229" fill="#000"/><rect x="0" y="1226.6" width="520" height="2.4" fill="#000"/>
</svg>
</body></html>
